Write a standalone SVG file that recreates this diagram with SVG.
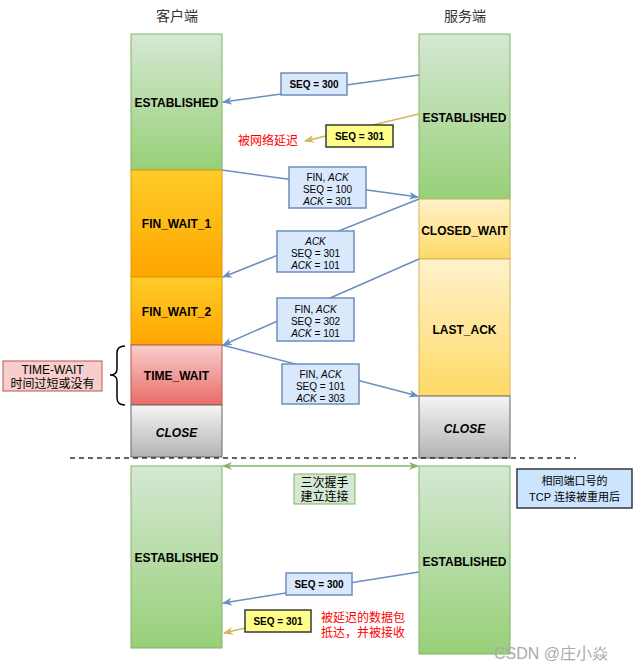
<svg xmlns="http://www.w3.org/2000/svg" width="642" height="670" viewBox="0 0 642 670">
<defs>
<linearGradient id="gGreen" x1="0" y1="0" x2="0" y2="1"><stop offset="0" stop-color="#d5e8d4"/><stop offset="1" stop-color="#97d077"/></linearGradient>
<linearGradient id="gOrange" x1="0" y1="0" x2="0" y2="1"><stop offset="0" stop-color="#ffcd28"/><stop offset="1" stop-color="#ffa500"/></linearGradient>
<linearGradient id="gYellow" x1="0" y1="0" x2="0" y2="1"><stop offset="0" stop-color="#fff2cc"/><stop offset="1" stop-color="#ffd966"/></linearGradient>
<linearGradient id="gRed" x1="0" y1="0" x2="0" y2="1"><stop offset="0" stop-color="#f8cecc"/><stop offset="1" stop-color="#ea6b66"/></linearGradient>
<linearGradient id="gGrey" x1="0" y1="0" x2="0" y2="1"><stop offset="0" stop-color="#f5f5f5"/><stop offset="1" stop-color="#b3b3b3"/></linearGradient>
<marker id="aBlue" markerWidth="10" markerHeight="8" refX="9" refY="4" orient="auto" markerUnits="userSpaceOnUse"><path d="M0,0 L10,4 L0,8 L3,4 Z" fill="#6c8ebf"/></marker>
<marker id="aGold" markerWidth="10" markerHeight="8" refX="9" refY="4" orient="auto" markerUnits="userSpaceOnUse"><path d="M0,0 L10,4 L0,8 L3,4 Z" fill="#d6b656"/></marker>
<marker id="aGreenE" markerWidth="10" markerHeight="8" refX="9" refY="4" orient="auto" markerUnits="userSpaceOnUse"><path d="M0,0 L10,4 L0,8 L3,4 Z" fill="#82b366"/></marker>
<marker id="aGreenS" markerWidth="10" markerHeight="8" refX="1" refY="4" orient="auto" markerUnits="userSpaceOnUse"><path d="M10,0 L0,4 L10,8 L7,4 Z" fill="#82b366"/></marker>
</defs>
<style>
text{font-family:"Liberation Sans","Noto Sans CJK SC",sans-serif;}
.st{font-size:12px;font-weight:bold;fill:#000;text-anchor:middle;}
.lb{font-size:10px;fill:#000;text-anchor:middle;}
.nt{font-size:12px;fill:#000;text-anchor:middle;}
.nt2{font-size:11px;fill:#000;text-anchor:middle;}
.bold{font-weight:bold;}
.hd{font-size:14px;fill:#333;text-anchor:middle;}
.red{font-size:12px;fill:#ff0000;}
.green{stroke:#82b366;}
.orange{stroke:#d79b00;}
.yel{stroke:#d6b656;}
.rd{stroke:#b85450;}
.gr{stroke:#666666;}
.blue{fill:#dae8fc;stroke:#6c8ebf;stroke-width:1.5;}
.gold{fill:#ffff88;stroke:#36393d;stroke-width:1.5;}
.cb{stroke:#6c8ebf;stroke-width:1.5;fill:none;}
.cg{stroke:#d6b656;stroke-width:1.5;fill:none;}
</style>
<text class="hd" x="177" y="21">客户端</text>
<text class="hd" x="465" y="21">服务端</text>

<g id="client-top">
<g id="c-established"><rect x="131" y="34" width="91" height="136" fill="url(#gGreen)" class="green"/><text class="st" x="176.5" y="107">ESTABLISHED</text></g>
<g id="c-finwait1"><rect x="131" y="170" width="91" height="107" fill="url(#gOrange)" class="orange"/><text class="st" x="176.5" y="228">FIN_WAIT_1</text></g>
<g id="c-finwait2"><rect x="131" y="277" width="91" height="68" fill="url(#gOrange)" class="orange"/><text class="st" x="176.5" y="316">FIN_WAIT_2</text></g>
<g id="c-timewait"><rect x="131" y="345" width="91" height="60" fill="url(#gRed)" class="rd"/><text class="st" x="176.5" y="380">TIME_WAIT</text></g>
<g id="c-close"><rect x="131" y="405" width="91" height="52" fill="url(#gGrey)" class="gr"/><text class="st" x="176.5" y="437" font-style="italic">CLOSE</text></g>
</g>
<g id="server-top">
<g id="s-established"><rect x="419" y="34" width="91" height="165" fill="url(#gGreen)" class="green"/><text class="st" x="464.5" y="122">ESTABLISHED</text></g>
<g id="s-closedwait"><rect x="419" y="199" width="91" height="60" fill="url(#gYellow)" class="yel"/><text class="st" x="464.5" y="235">CLOSED_WAIT</text></g>
<g id="s-lastack"><rect x="419" y="259" width="91" height="137" fill="url(#gYellow)" class="yel"/><text class="st" x="464.5" y="334">LAST_ACK</text></g>
<g id="s-close"><rect x="419" y="396" width="91" height="62" fill="url(#gGrey)" class="gr"/><text class="st" x="464.5" y="433" font-style="italic">CLOSE</text></g>
</g>

<line x1="70" y1="458" x2="576" y2="458" stroke="#333" stroke-width="1.5" stroke-dasharray="5,4"/>

<g id="client-bottom"><rect x="131" y="466" width="91" height="182" fill="url(#gGreen)" class="green"/><text class="st" x="176.5" y="562">ESTABLISHED</text></g>
<g id="server-bottom"><rect x="419" y="466" width="91" height="188" fill="url(#gGreen)" class="green"/><text class="st" x="464.5" y="566">ESTABLISHED</text></g>

<g id="connectors">
<line class="cb" x1="419" y1="75" x2="223" y2="102" marker-end="url(#aBlue)"/>
<line class="cg" x1="419" y1="114" x2="305" y2="141" marker-end="url(#aGold)"/>
<line class="cb" x1="222" y1="170" x2="418" y2="197" marker-end="url(#aBlue)"/>
<line class="cb" x1="419" y1="199" x2="223" y2="277" marker-end="url(#aBlue)"/>
<line class="cb" x1="419" y1="259" x2="223" y2="345" marker-end="url(#aBlue)"/>
<line class="cb" x1="222" y1="345" x2="418" y2="396" marker-end="url(#aBlue)"/>
<line x1="223" y1="466" x2="418" y2="466" stroke="#82b366" stroke-width="1.5" marker-start="url(#aGreenS)" marker-end="url(#aGreenE)"/>
<line class="cb" x1="419" y1="572" x2="223" y2="603" marker-end="url(#aBlue)"/>
<line class="cg" x1="245" y1="628" x2="224" y2="633" marker-end="url(#aGold)"/>
</g>

<g id="lbl-seq300"><rect class="blue" x="281" y="73" width="66" height="22"/><text class="lb bold" x="314" y="88">SEQ = 300</text></g>
<g id="lbl-seq301"><rect class="gold" x="326" y="125" width="67" height="22"/><text class="lb bold" x="359.5" y="140">SEQ = 301</text></g>
<text class="red" x="238" y="145">被网络延迟</text>
<g id="lbl-fin1"><rect class="blue" x="289" y="167" width="77" height="41"/><text class="lb" x="327.5" y="181">FIN, <tspan font-style="italic">ACK</tspan></text><text class="lb" x="327.5" y="193">SEQ = 100</text><text class="lb" x="327.5" y="205"><tspan font-style="italic">ACK</tspan> = 301</text></g>
<g id="lbl-ack"><rect class="blue" x="277" y="231" width="77" height="41"/><text class="lb" x="315.5" y="245" font-style="italic">ACK</text><text class="lb" x="315.5" y="257">SEQ = 301</text><text class="lb" x="315.5" y="269"><tspan font-style="italic">ACK</tspan> = 101</text></g>
<g id="lbl-fin2"><rect class="blue" x="277" y="298" width="77" height="43"/><text class="lb" x="315.5" y="313">FIN, <tspan font-style="italic">ACK</tspan></text><text class="lb" x="315.5" y="325">SEQ = 302</text><text class="lb" x="315.5" y="337"><tspan font-style="italic">ACK</tspan> = 101</text></g>
<g id="lbl-fin3"><rect class="blue" x="282" y="364" width="77" height="40"/><text class="lb" x="320.5" y="378">FIN, <tspan font-style="italic">ACK</tspan></text><text class="lb" x="320.5" y="390">SEQ = 101</text><text class="lb" x="320.5" y="402"><tspan font-style="italic">ACK</tspan> = 303</text></g>

<g id="note-timewait"><rect x="3" y="361" width="99" height="30" fill="#f8cecc" stroke="#b85450"/><text class="nt" x="52.5" y="374">TIME-WAIT</text><text class="nt" x="52.5" y="388">时间过短或没有</text></g>
<path d="M125,346 Q117,346 117,353 L117,369 Q117,375 110,375 Q117,375 117,381 L117,398 Q117,405 125,405" fill="none" stroke="#000" stroke-width="1.5"/>

<g id="lbl-handshake"><rect x="294" y="474" width="61" height="30" fill="#d5e8d4" stroke="#82b366"/><text class="nt" x="324.5" y="487">三次握手</text><text class="nt" x="324.5" y="501">建立连接</text></g>
<g id="note-reuse"><rect x="517" y="469" width="115" height="39" fill="#cce5ff" stroke="#36393d" stroke-width="1.5"/><text class="nt2" x="574.5" y="485">相同端口号的</text><text class="nt2" x="574.5" y="501">TCP 连接被重用后</text></g>
<g id="lbl-seq300b"><rect class="blue" x="286" y="573" width="66" height="22"/><text class="lb bold" x="319" y="588">SEQ = 300</text></g>
<g id="lbl-seq301b"><rect class="gold" x="245" y="610" width="66" height="22"/><text class="lb bold" x="278" y="625">SEQ = 301</text></g>
<text class="red" x="321" y="622">被延迟的数据包</text>
<text class="red" x="321" y="637">抵达，并被接收</text>
<text x="494" y="659" font-size="16" fill="#aaaaaa">CSDN @庄小焱</text>
</svg>
